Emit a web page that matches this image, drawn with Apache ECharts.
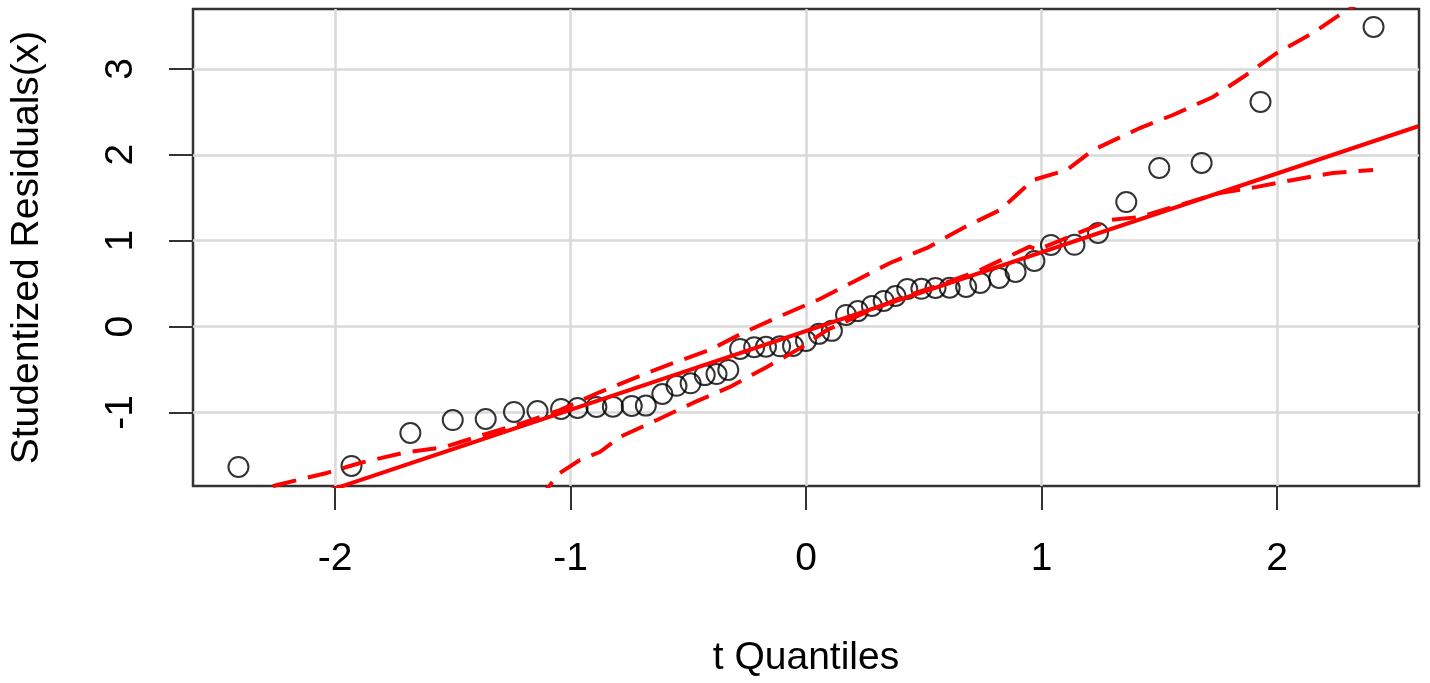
<!DOCTYPE html>
<html>
<head>
<meta charset="utf-8">
<script src="https://cdn.jsdelivr.net/npm/echarts@6/dist/echarts.min.js"></script>
<style>
    html, body { margin: 0; padding: 0; background: #fff; }
    #myChart { width: 1430px; height: 683px; }
</style>
</head>
<body>
<div id="myChart"></div>
<script>
    // t quantiles (x) and sorted studentized residuals (y)
    let tQuantiles = [-2.41, -1.93, -1.68, -1.50, -1.36, -1.24, -1.14, -1.04, -0.97, -0.89,
        -0.82, -0.74, -0.68, -0.61, -0.55, -0.49, -0.43, -0.38, -0.33, -0.28,
        -0.22, -0.17, -0.11, -0.055, 0, 0.055, 0.11, 0.17, 0.22, 0.28,
        0.33, 0.38, 0.43, 0.49, 0.55, 0.61, 0.68, 0.74, 0.82, 0.89,
        0.97, 1.04, 1.14, 1.24, 1.36, 1.50, 1.68, 1.93, 2.41];
    let residuals = [-1.634, -1.623, -1.239, -1.088, -1.076, -0.994, -0.983, -0.959, -0.948, -0.936,
        -0.932, -0.924, -0.92, -0.785, -0.69, -0.66, -0.565, -0.553, -0.505, -0.26,
        -0.24, -0.235, -0.23, -0.225, -0.168, -0.085, -0.05, 0.135, 0.18, 0.24,
        0.298, 0.356, 0.438, 0.44, 0.45, 0.452, 0.461, 0.508, 0.566, 0.636,
        0.764, 0.95, 0.952, 1.09, 1.45, 1.846, 1.905, 2.615, 3.488];

    // reference line end points
    let fitX = [-2.6, 2.6];
    let fitY = [-2.436, 2.332];

    // confidence envelope
    let upperX = [-2.41, -2.246, -2.034, -1.894, -1.711, -1.533, -1.372, -1.202, -1.045, -0.875,
        -0.718, -0.565, -0.408, -0.268, -0.098, 0.059, 0.20, 0.357, 0.514, 0.667,
        0.824, 0.964, 1.108, 1.219, 1.418, 1.558, 1.728, 1.856, 2.0, 2.153, 2.297, 2.41];
    let upperY = [-1.98, -1.844, -1.704, -1.588, -1.471, -1.401, -1.262, -1.122, -0.973, -0.762,
        -0.588, -0.425, -0.272, -0.074, 0.135, 0.321, 0.519, 0.740, 0.915, 1.148,
        1.357, 1.706, 1.823, 2.056, 2.311, 2.463, 2.673, 2.905, 3.185, 3.418, 3.686, 3.86];
    let lowerX = [-1.14, -1.087, -1.045, -0.96, -0.875, -0.79, -0.633, -0.48, -0.323, -0.166,
        -0.025, 0.089, 0.229, 0.399, 0.569, 0.739, 0.95, 0.981, 1.291, 1.418,
        1.758, 1.915, 2.068, 2.238, 2.408];
    let lowerY = [-2.03, -1.844, -1.704, -1.553, -1.46, -1.285, -1.087, -0.889, -0.703, -0.47,
        -0.251, -0.04, 0.135, 0.333, 0.484, 0.659, 0.93, 0.892, 1.24, 1.276,
        1.556, 1.626, 1.707, 1.788, 1.823];

    let xTicks = [-2, -1, 0, 1, 2];
    let yTicks = [-1, 0, 1, 2, 3];

    let font = '"Liberation Sans", Arial, sans-serif';

    function pairs(xs, ys) {
        let arr = [];
        xs.forEach((x, i) => {
            arr.push([x, ys[i]]);
        });
        return arr;
    }

    let option = {
        animation: false,
        backgroundColor: '#fff',
        textStyle: {
            fontFamily: font,
            color: '#000'
        },
        grid: {
            left: 193,
            right: 11,
            top: 9,
            bottom: 197,
            show: true,
            borderColor: '#333',
            borderWidth: 2.5,
            outerBoundsMode: 'none'
        },
        xAxis: {
            type: 'value',
            min: -2.603,
            max: 2.603,
            name: 't Quantiles',
            nameLocation: 'middle',
            nameGap: 153,
            nameTextStyle: {
                fontSize: 39,
                fontFamily: font,
                color: '#000'
            },
            axisLine: { show: false, onZero: false },
            axisTick: {
                show: true,
                length: 24,
                customValues: xTicks,
                lineStyle: { color: '#333', width: 2 }
            },
            axisLabel: {
                customValues: xTicks,
                fontSize: 39,
                fontFamily: font,
                color: '#000',
                margin: 54
            },
            splitLine: {
                show: true,
                lineStyle: { color: '#d9d9d9', width: 2.5 }
            }
        },
        yAxis: {
            type: 'value',
            min: -1.856,
            max: 3.697,
            name: 'Studentized Residuals(x)',
            nameLocation: 'middle',
            nameRotate: 90,
            nameGap: 146,
            nameTextStyle: {
                fontSize: 39,
                fontFamily: font,
                color: '#000'
            },
            axisLine: { show: false, onZero: false },
            axisTick: {
                show: true,
                length: 24,
                customValues: yTicks,
                lineStyle: { color: '#333', width: 2 }
            },
            axisLabel: {
                customValues: yTicks,
                rotate: 90,
                fontSize: 39,
                fontFamily: font,
                color: '#000',
                margin: 52
            },
            splitLine: {
                show: true,
                lineStyle: { color: '#d9d9d9', width: 2.5 }
            }
        },
        series: [{
            type: 'scatter',
            symbol: 'circle',
            symbolSize: 20,
            z: 1,
            itemStyle: {
                color: 'rgba(0,0,0,0)',
                borderColor: '#000',
                borderWidth: 2
            },
            data: pairs(tQuantiles, residuals)
        }, {
            type: 'line',
            showSymbol: false,
            z: 2,
            lineStyle: { color: '#ff0000', width: 4 },
            data: pairs(fitX, fitY)
        }, {
            type: 'line',
            showSymbol: false,
            z: 2,
            lineStyle: { color: '#ff0000', width: 4, type: [24, 12] },
            data: pairs(upperX, upperY)
        }, {
            type: 'line',
            showSymbol: false,
            z: 2,
            lineStyle: { color: '#ff0000', width: 4, type: [24, 12] },
            data: pairs(lowerX, lowerY)
        }]
    };

    let myChart = echarts.init(document.getElementById('myChart'));
    myChart.setOption(option);
</script>
</body>
</html>
